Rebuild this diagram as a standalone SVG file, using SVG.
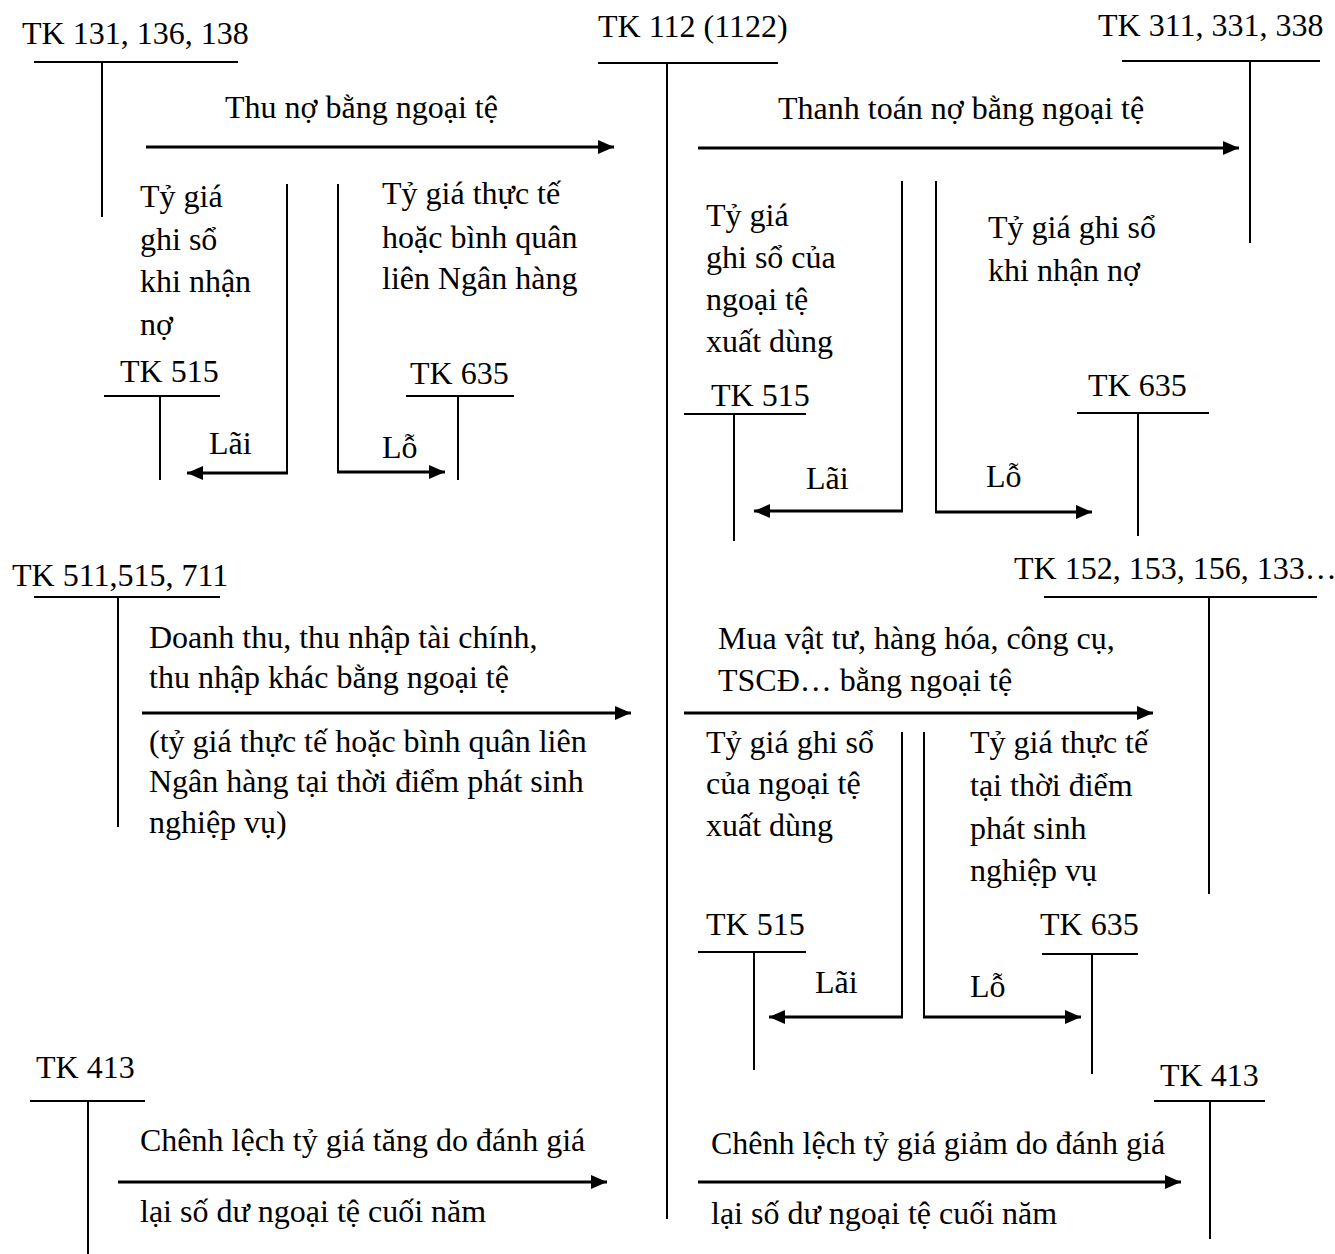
<svg xmlns="http://www.w3.org/2000/svg" width="1335" height="1254" viewBox="0 0 1335 1254">
<style>
text{font-family:"Liberation Serif","Times New Roman",serif;font-size:32px;fill:#000}
.acc{stroke:#000;stroke-width:2;fill:none}
.con{stroke:#000;stroke-width:2;fill:none}
.arr{stroke:#000;stroke-width:3;fill:none;marker-end:url(#ah)}
</style>
<defs>
<marker id="ah" markerUnits="userSpaceOnUse" markerWidth="17" markerHeight="15" refX="16" refY="7" orient="auto">
<path d="M0,0 L16,7 L0,14 z" fill="#000"/>
</marker>
</defs>
<rect width="1335" height="1254" fill="#fff"/>

<g id="tk131">
<text x="22" y="44">TK 131, 136, 138</text>
<path class="acc" d="M34,62 H238 M102,63 V217"/>
</g>
<g id="tk112">
<text x="598" y="37">TK 112 (1122)</text>
<path class="acc" d="M598,63 H778 M667,63 V1219"/>
</g>
<g id="tk311">
<text x="1098" y="36">TK 311, 331, 338</text>
<path class="acc" d="M1122,61 H1320 M1250,62 V243"/>
</g>
<g id="tk515a">
<text x="120" y="382">TK 515</text>
<path class="acc" d="M104,396 H220 M160,396 V480"/>
</g>
<g id="tk635a">
<text x="410" y="384">TK 635</text>
<path class="acc" d="M406,396 H514 M458,396 V480"/>
</g>
<g id="tk515b">
<text x="711" y="406">TK 515</text>
<path class="acc" d="M684,414 H806 M734,414 V541"/>
</g>
<g id="tk635b">
<text x="1088" y="396">TK 635</text>
<path class="acc" d="M1077,413 H1209 M1138,413 V536"/>
</g>
<g id="tk511">
<text x="12" y="586">TK 511,515, 711</text>
<path class="acc" d="M34,597 H220 M118,597 V827"/>
</g>
<g id="tk152">
<text x="1014" y="579">TK 152, 153, 156, 133…</text>
<path class="acc" d="M1044,597 H1317 M1209,597 V894"/>
</g>
<g id="tk515c">
<text x="706" y="935">TK 515</text>
<path class="acc" d="M698,952 H806 M754,952 V1070"/>
</g>
<g id="tk635c">
<text x="1040" y="935">TK 635</text>
<path class="acc" d="M1042,954 H1138 M1092,954 V1074"/>
</g>
<g id="tk413a">
<text x="36" y="1078">TK 413</text>
<path class="acc" d="M30,1101 H145 M88,1101 V1254"/>
</g>
<g id="tk413b">
<text x="1160" y="1086">TK 413</text>
<path class="acc" d="M1154,1101 H1265 M1210,1101 V1239"/>
</g>

<g id="connectors">
<path class="arr" d="M146,147 H614"/>
<text x="225" y="118">Thu nợ bằng ngoại tệ</text>
<path class="con" d="M287,184 V473"/><path class="arr" d="M288,473 H187"/>
<text><tspan x="140" y="207">Tỷ giá</tspan><tspan x="140" y="250">ghi sổ</tspan><tspan x="140" y="292">khi nhận</tspan><tspan x="140" y="335">nợ</tspan></text>
<text x="209" y="454">Lãi</text>
<path class="con" d="M338,184 V472"/><path class="arr" d="M337,472 H445"/>
<text><tspan x="382" y="204">Tỷ giá thực tế</tspan><tspan x="382" y="248">hoặc bình quân</tspan><tspan x="382" y="289">liên Ngân hàng</tspan></text>
<text x="382" y="458">Lỗ</text>

<path class="arr" d="M698,148 H1239"/>
<text x="778" y="119">Thanh toán nợ bằng ngoại tệ</text>
<path class="con" d="M902,181 V511"/><path class="arr" d="M903,511 H754"/>
<text><tspan x="706" y="226">Tỷ giá</tspan><tspan x="706" y="268">ghi sổ của</tspan><tspan x="706" y="310">ngoại tệ</tspan><tspan x="706" y="352">xuất dùng</tspan></text>
<text x="806" y="489">Lãi</text>
<path class="con" d="M936,181 V512"/><path class="arr" d="M935,512 H1092"/>
<text><tspan x="988" y="238">Tỷ giá ghi sổ</tspan><tspan x="988" y="281">khi nhận nợ</tspan></text>
<text x="986" y="487">Lỗ</text>

<path class="arr" d="M142,713 H631"/>
<text><tspan x="149" y="648">Doanh thu, thu nhập tài chính,</tspan><tspan x="149" y="688">thu nhập khác bằng ngoại tệ</tspan></text>
<text><tspan x="149" y="752">(tỷ giá thực tế hoặc bình quân liên</tspan><tspan x="149" y="792">Ngân hàng tại thời điểm phát sinh</tspan><tspan x="149" y="833">nghiệp vụ)</tspan></text>

<path class="arr" d="M684,713 H1153"/>
<text><tspan x="718" y="649">Mua vật tư, hàng hóa, công cụ,</tspan><tspan x="718" y="691">TSCĐ… bằng ngoại tệ</tspan></text>
<path class="con" d="M902,732 V1017"/><path class="arr" d="M903,1017 H769"/>
<text><tspan x="706" y="753">Tỷ giá ghi sổ</tspan><tspan x="706" y="794">của ngoại tệ</tspan><tspan x="706" y="836">xuất dùng</tspan></text>
<text x="815" y="993">Lãi</text>
<path class="con" d="M924,732 V1017"/><path class="arr" d="M923,1017 H1081"/>
<text><tspan x="970" y="753">Tỷ giá thực tế</tspan><tspan x="970" y="796">tại thời điểm</tspan><tspan x="970" y="839">phát sinh</tspan><tspan x="970" y="881">nghiệp vụ</tspan></text>
<text x="970" y="997">Lỗ</text>

<path class="arr" d="M118,1182 H607"/>
<text x="140" y="1151">Chênh lệch tỷ giá tăng do đánh giá</text>
<text x="140" y="1222">lại số dư ngoại tệ cuối năm</text>
<path class="arr" d="M698,1182 H1181"/>
<text x="711" y="1154">Chênh lệch tỷ giá giảm do đánh giá</text>
<text x="711" y="1224">lại số dư ngoại tệ cuối năm</text>
</g>
</svg>
